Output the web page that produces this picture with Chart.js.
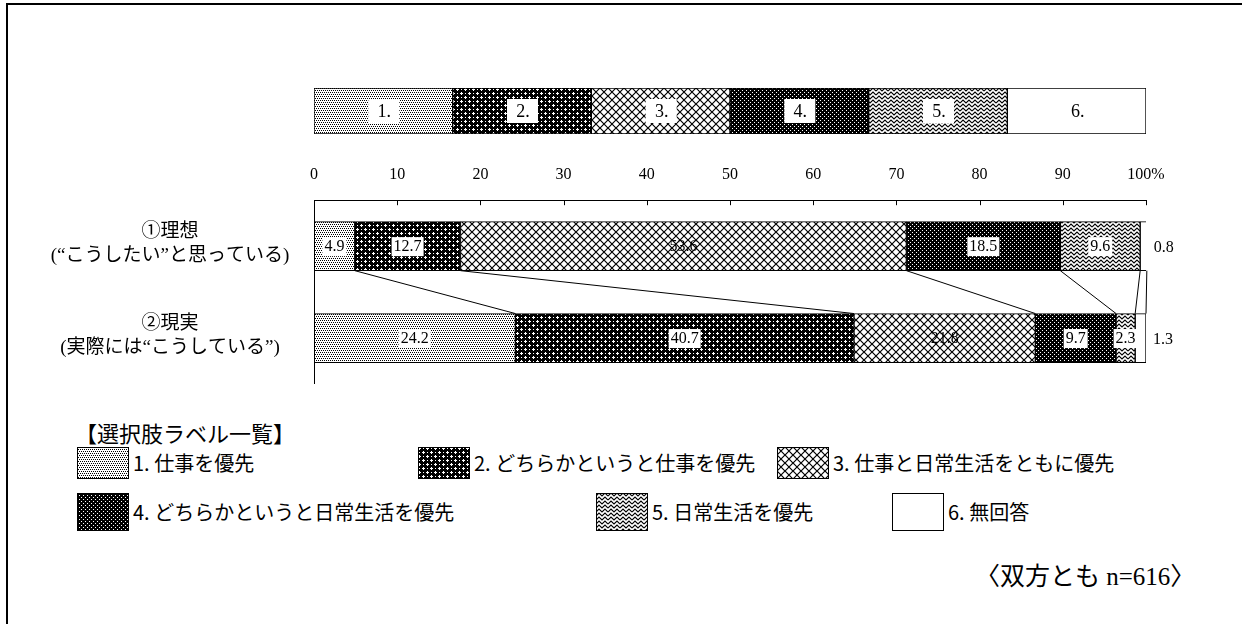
<!DOCTYPE html>
<html>
<head>
<meta charset="utf-8">
<script src="https://cdn.jsdelivr.net/npm/chart.js@4.4.1/dist/chart.umd.min.js"></script>
<style>
  html, body { overflow: hidden; }
  body { margin: 0; background: #fff; width: 1242px; height: 624px; position: relative;
         font-family: "Noto Sans CJK JP", sans-serif; color: #000; }
  .frame { position: absolute; left: 6px; top: 3px; width: 1240px; height: 640px;
           border-left: 2px solid #000; border-top: 2px solid #000; }
  #legendBarBox { position: absolute; left: 0; top: 80px; width: 1242px; height: 60px; }
  #mainBox { position: absolute; left: 0; top: 0; width: 1242px; height: 400px; }
  .lg-title { position: absolute; left: 75px; top: 417px; font-size: 22px; line-height: 30px; }
  .lg-item { position: absolute; display: flex; align-items: center; font-size: 20px; line-height: 24px; white-space: nowrap; }
  .lg-item canvas { display: block; margin-right: 4px; }
  .note { position: absolute; left: 975px; top: 561px; font-family: "Liberation Serif", "Noto Sans CJK JP", serif;
          font-size: 25px; line-height: 32px; }
</style>
</head>
<body>
<div class="frame"></div>
<div id="mainBox"><canvas id="mainChart"></canvas></div>
<div id="legendBarBox"><canvas id="legendBar"></canvas></div>
<div class="lg-title">【選択肢ラベル一覧】</div>
<div id="legendList"></div>
<div class="note">〈双方とも n=616〉</div>

<script>
// categories (two rows) and answer options
const categories = [
  ["①理想", "(“こうしたい”と思っている)"],
  ["②現実", "(実際には“こうしている”)"]
];
const optionLabels = [
  "1. 仕事を優先",
  "2. どちらかというと仕事を優先",
  "3. 仕事と日常生活をともに優先",
  "4. どちらかというと日常生活を優先",
  "5. 日常生活を優先",
  "6. 無回答"
];
const shortLabels = ["1.", "2.", "3.", "4.", "5.", "6."];

// percentages per option, in order of categories
const idealValues = [4.9, 12.7, 53.6, 18.5, 9.6, 0.8];
const realValues = [24.2, 40.7, 21.8, 9.7, 2.3, 1.3];

const tickValues = [0, 10, 20, 30, 40, 50, 60, 70, 80, 90, 100];
// the key bar at the top splits into equal parts
const legendShares = [1, 1, 1, 1, 1, 1];

Chart.defaults.font.family = '"Liberation Serif", "Noto Sans CJK JP", serif';
Chart.defaults.color = "#000";

// monochrome fill patterns
function makeTile(w, h, draw) {
  const c = document.createElement("canvas");
  c.width = w; c.height = h;
  const g = c.getContext("2d");
  draw(g, w, h);
  return c;
}
function dots(g, w, h, bg, fg, pts) {
  g.fillStyle = bg; g.fillRect(0, 0, w, h);
  g.fillStyle = fg;
  pts.forEach(p => g.fillRect(p[0], p[1], 1, 1));
}
const tiles = [
  makeTile(4, 4, (g, w, h) => dots(g, w, h, "#fff", "#000", [[0, 0], [2, 0], [1, 2], [3, 2]])),
  makeTile(8, 8, (g, w, h) => dots(g, w, h, "#000", "#fff",
    [[1, 0], [0, 1], [1, 1], [2, 1], [1, 2], [5, 4], [4, 5], [5, 5], [6, 5], [5, 6], [5, 1], [1, 5]])),
  makeTile(8, 8, (g, w, h) => {
    g.fillStyle = "#fff"; g.fillRect(0, 0, w, h);
    g.strokeStyle = "#000"; g.lineWidth = 1.2;
    g.beginPath();
    g.moveTo(-1, -1); g.lineTo(9, 9);
    g.moveTo(9, -1); g.lineTo(-1, 9);
    g.stroke();
  }),
  makeTile(4, 4, (g, w, h) => dots(g, w, h, "#000", "#fff", [[0, 0], [2, 2]])),
  makeTile(12, 12, (g, w, h) => {
    g.fillStyle = "#fff"; g.fillRect(0, 0, w, h);
    g.strokeStyle = "#000"; g.lineWidth = 1.1;
    g.beginPath();
    for (let y0 = -4; y0 <= 12; y0 += 4) {
      g.moveTo(0, y0 + 3); g.lineTo(3, y0); g.lineTo(6, y0 + 3); g.lineTo(9, y0); g.lineTo(12, y0 + 3);
    }
    g.stroke();
  }),
  makeTile(2, 2, (g, w, h) => { g.fillStyle = "#fff"; g.fillRect(0, 0, w, h); })
];
const patCtx = document.createElement("canvas").getContext("2d");
const patterns = tiles.map(t => patCtx.createPattern(t, "repeat"));

// ---------- main chart ----------
const mainPlugin = {
  id: "mainPlugin",
  afterDatasetsDraw(chart) {
    const ctx = chart.ctx;
    const x = chart.scales.x;
    const y = chart.scales.y;
    const area = chart.chartArea;
    ctx.save();
    ctx.strokeStyle = "#000";
    ctx.lineWidth = 1;

    // left axis line and inner tick marks
    ctx.beginPath();
    ctx.moveTo(area.left + 0.5, area.top);
    ctx.lineTo(area.left + 0.5, area.bottom);
    x.ticks.forEach(t => {
      const px = Math.round(x.getPixelForValue(t.value)) + 0.5;
      ctx.moveTo(px, area.top);
      ctx.lineTo(px, area.top + 5);
    });
    ctx.stroke();

    // connector lines between the two bars
    ctx.beginPath();
    chart.data.datasets.forEach((ds, i) => {
      const bars = chart.getDatasetMeta(i).data;
      const a = bars[0], b = bars[1];
      ctx.moveTo(a.x, a.y + a.height / 2);
      ctx.lineTo(b.x, b.y - b.height / 2);
    });
    ctx.stroke();

    // segment value labels
    ctx.font = '16px "Liberation Serif"';
    ctx.textBaseline = "middle";
    chart.data.datasets.forEach((ds, i) => {
      chart.getDatasetMeta(i).data.forEach((bar, j) => {
        const txt = ds.data[j].toFixed(1);
        if (i === chart.data.datasets.length - 1) {
          ctx.textAlign = "left";
          ctx.fillStyle = "#000";
          ctx.fillText(txt, bar.x + 7, bar.y + 2);
          return;
        }
        const cx = (bar.x + bar.base) / 2;
        const w = ctx.measureText(txt).width + 4;
        if (i !== 2) {
          ctx.fillStyle = "#fff";
          ctx.fillRect(cx - w / 2, bar.y - 9, w, 19);
        }
        ctx.fillStyle = "#000";
        ctx.textAlign = "center";
        ctx.fillText(txt, cx, bar.y + 1);
      });
    });

    // category labels on the left
    ctx.font = '19px "Liberation Serif", "Noto Sans CJK JP"';
    ctx.textAlign = "center";
    ctx.fillStyle = "#000";
    chart.data.labels.forEach((lines, j) => {
      const cy = y.getPixelForValue(j);
      ctx.fillText(lines[0], 170, cy - 14);
      ctx.fillText(lines[1], 170, cy + 10);
    });
    ctx.restore();
  }
};

const seriesByOption = idealValues.map((v, i) => [v, realValues[i]]);

new Chart(document.getElementById("mainChart"), {
  type: "bar",
  data: {
    labels: categories,
    datasets: seriesByOption.map((vals, i) => ({
      label: optionLabels[i],
      data: vals,
      backgroundColor: patterns[i],
      borderColor: "#000",
      borderWidth: 1,
      borderSkipped: false,
      barThickness: 49
    }))
  },
  options: {
    indexAxis: "y",
    responsive: true,
    maintainAspectRatio: false,
    animation: false,
    layout: { padding: { left: 314, right: 96, top: 149, bottom: 16 } },
    plugins: { legend: { display: false }, tooltip: { enabled: false } },
    scales: {
      x: {
        position: "top",
        stacked: true,
        min: 0,
        max: 100,
        afterBuildTicks: scale => { scale.ticks = tickValues.map(v => ({ value: v })); },
        grid: { display: false, drawTicks: false },
        border: { display: true, color: "#000", width: 1 },
        ticks: {
          padding: 16,
          maxRotation: 0,
          font: { size: 16 },
          callback: v => (v === 100 ? "100%" : String(v))
        }
      },
      y: { stacked: true, display: false }
    }
  },
  plugins: [mainPlugin]
});

// ---------- key bar at the top ----------
const keyLabelPlugin = {
  id: "keyLabels",
  afterDatasetsDraw(chart) {
    const ctx = chart.ctx;
    ctx.save();
    ctx.font = '18px "Liberation Serif"';
    ctx.textAlign = "center";
    ctx.textBaseline = "middle";
    chart.data.datasets.forEach((ds, i) => {
      const bar = chart.getDatasetMeta(i).data[0];
      const cx = (bar.x + bar.base) / 2;
      if (i < chart.data.datasets.length - 1) {
        ctx.fillStyle = "#fff";
        ctx.fillRect(cx - 15, bar.y - 12, 31, 24);
      }
      ctx.fillStyle = "#000";
      ctx.fillText(shortLabels[i], cx + 1, bar.y + 1);
    });
    ctx.restore();
  }
};

new Chart(document.getElementById("legendBar"), {
  type: "bar",
  data: {
    labels: [""],
    datasets: legendShares.map((v, i) => ({
      label: shortLabels[i],
      data: [v],
      backgroundColor: patterns[i],
      borderColor: "#000",
      borderWidth: 1,
      borderSkipped: false,
      barPercentage: 1,
      categoryPercentage: 1
    }))
  },
  options: {
    indexAxis: "y",
    responsive: true,
    maintainAspectRatio: false,
    animation: false,
    layout: { padding: { left: 314, right: 96, top: 8, bottom: 6 } },
    plugins: { legend: { display: false }, tooltip: { enabled: false } },
    scales: {
      x: { stacked: true, display: false, min: 0, max: legendShares.reduce((a, b) => a + b, 0) },
      y: { stacked: true, display: false }
    }
  },
  plugins: [keyLabelPlugin]
});

// ---------- option list at the bottom ----------
const legendSlots = [
  { left: 77, top: 447, h: 32 },
  { left: 418, top: 447, h: 32 },
  { left: 777, top: 447, h: 32 },
  { left: 77, top: 493, h: 38 },
  { left: 596, top: 493, h: 38 },
  { left: 892, top: 493, h: 38 }
];
const list = document.getElementById("legendList");
optionLabels.forEach((text, i) => {
  const slot = legendSlots[i];
  const item = document.createElement("div");
  item.className = "lg-item";
  item.style.left = slot.left + "px";
  item.style.top = slot.top + "px";
  item.style.height = slot.h + "px";
  const sw = document.createElement("canvas");
  sw.width = 52; sw.height = slot.h;
  const g = sw.getContext("2d");
  g.fillStyle = patterns[i];
  g.fillRect(0, 0, sw.width, sw.height);
  g.strokeStyle = "#000";
  g.lineWidth = 1;
  g.strokeRect(0.5, 0.5, sw.width - 1, sw.height - 1);
  const span = document.createElement("span");
  span.textContent = text;
  item.appendChild(sw);
  item.appendChild(span);
  list.appendChild(item);
});
</script>
</body>
</html>
